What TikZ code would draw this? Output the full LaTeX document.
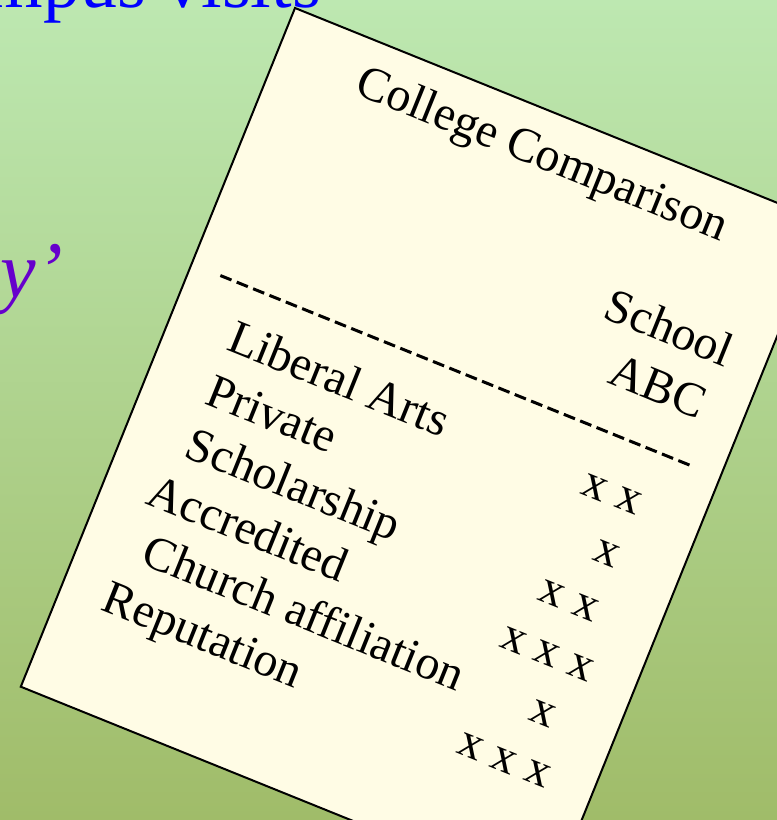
\documentclass[tikz,border=0pt]{standalone}
\usepackage{fontspec}
\setmainfont{Liberation Serif}
\definecolor{bgtop}{RGB}{189,232,177}
\definecolor{bgbot}{RGB}{160,188,105}
\definecolor{paper}{RGB}{255,252,229}
\definecolor{purp}{RGB}{102,0,204}
\begin{document}
\begin{tikzpicture}[x=1pt,y=-1pt,
  lbl/.style={anchor=base west,inner sep=0pt,font=\fontsize{48}{57.6}\selectfont},
  xmk/.style={anchor=base east,inner sep=0pt,font=\fontsize{48}{57.6}\selectfont},
  ttl/.style={anchor=base west,inner sep=0pt,font=\fontsize{48}{57.6}\selectfont}]
\useasboundingbox (0,0) rectangle (777,820);
\clip (0,0) rectangle (777,820);
\shade[top color=bgtop,bottom color=bgbot] (0,0) rectangle (777,820);
\node[anchor=base east,inner sep=0pt,text=blue,font=\fontsize{74}{80}\selectfont] (head) at (321,7) {mpus visits};
\node[anchor=base east,inner sep=0pt,text=purp,font=\fontsize{80}{84}\selectfont\itshape] (quote) at (63,297) {y’};
\begin{scope}[shift={(295,8)},rotate=-22,transform shape]
  \draw[fill=paper,line width=2pt] (0,0) rectangle (570,732);
  \node[ttl] (title) at (86,57) {College Comparison};
  \node[lbl] (school) at (400,172) {School};
  \node[lbl] (abc) at (429,230) {ABC};
  \coordinate (dl) at (31,276);
  \coordinate (dr) at (537,276);
  \draw[line width=3pt,dash pattern=on 12pt off 5.64pt] (dl) -- (dr);
  \node[lbl] (l1) at (63,343) {Liberal Arts};
  \node[lbl] (l2) at (63,400.5) {Private};
  \node[lbl] (l3) at (64,458) {Scholarship};
  \node[lbl] (l4) at (46,515.5) {Accredited};
  \node[lbl] (l5) at (64,573) {Church affiliation};
  \node[lbl] (l6) at (44,630.5) {Reputation};
  \node[xmk] (x1) at (506,343) {x x};
  \node[xmk] (x2) at (506,400.5) {x};
  \node[xmk] (x3) at (506,458) {x x};
  \node[xmk] (x4) at (524,515.5) {x x x};
  \node[xmk] (x5) at (506,573) {x};
  \node[xmk] (x6) at (524,630.5) {x x x};
\end{scope}
\end{tikzpicture}
\end{document}
